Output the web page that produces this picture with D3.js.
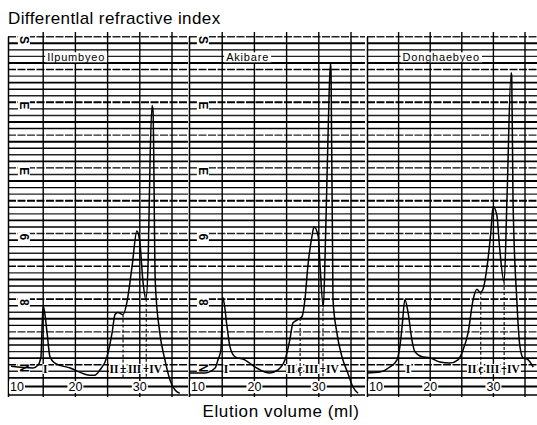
<!DOCTYPE html>
<html>
<head>
<meta charset="utf-8">
<script src="https://cdn.jsdelivr.net/npm/d3@7"></script>
<style>
  body { margin: 0; background: #fff; }
  svg { display: block; font-family: "Liberation Sans", Arial, sans-serif; }
</style>
</head>
<body>
<div id="vis"></div>
<script>
// sample (cultivar) names, one strip-chart panel each
var samples = ['Ilpumbyeo', 'Akibare', 'Donghaebyeo'];

var volIlpumbyeo = [10, 13.4, 14.2, 14.65, 14.97, 15.1, 15.6, 16.05, 16.8, 19.2, 22.3, 23.0, 23.8, 24.9,
  25.7, 26.15, 26.6, 27.4, 28.0, 28.8, 29.55, 30.0, 30.5, 30.95, 31.3, 31.6, 31.9, 32.05, 32.4, 33.1,
  33.9, 34.7, 35.5, 36.2];
var riIlpumbyeo = [0.5, 0, 0.9, 3.4, 18.8, 18.3, 10.8, 3.4, 1.5, 0, -2.2, -2.2, -0.6, 3.4,
  10.8, 16.3, 16.9, 16.3, 20, 31, 41.8, 38.5, 26.2, 20.9, 33, 64, 80, 78.4, 26.2, 10.8,
  2.5, -3.7, -6.8, -7.7];

var volAkibare = [10, 12.3, 13.9, 14.35, 14.8, 15.1, 15.75, 16.2, 17.0, 18.5, 20.1, 21.6, 22.4, 23.65,
  24.75, 25.5, 26.0, 26.8, 27.4, 27.85, 28.3, 28.95, 29.25, 29.9, 30.2, 30.7, 31.0, 31.5, 31.8, 31.9,
  32.2, 32.8, 33.6, 34.5, 35.3, 36.1];
var riAkibare = [-1.5, -1.5, 0, 2.5, 5.5, 21.5, 12.6, 6.5, 3.4, 2.5, 0.3, -1.2, -1.5, -0.6,
  2.5, 8.6, 13.8, 14.8, 15.7, 20.9, 31, 40.3, 43, 40.3, 31, 18.5, 36, 76, 93, 90.7,
  21, 10.8, 3.4, -1.5, -5.8, -7.7];

var volDonghaebyeo = [10, 12.05, 13.6, 14.75, 15.2, 15.55, 16.0, 16.5, 17.1, 17.6, 18.7, 19.95, 21.55,
  23.1, 24.4, 25.2, 26.0, 26.8, 27.4, 27.9, 28.35, 29.0, 29.6, 29.95, 30.55, 31.0, 31.7, 32.15, 32.8,
  32.9, 33.1, 33.7, 34.2, 34.7, 35.5, 36.3];
var riDonghaebyeo = [-1.5, -1.2, 0.3, 2.5, 6.5, 12.6, 20.9, 16.9, 8.6, 4.9, 3.4, 3.1, 1.8,
  1.5, 2.5, 5.5, 10.8, 20.9, 24, 23, 24, 31, 41.5, 49.2, 46.5, 36.3, 26.2, 51.7, 90,
  89, 51.7, 20.9, 6.5, 3.1, 2.5, 0.3];

var volumes = [volIlpumbyeo, volAkibare, volDonghaebyeo];
var signals = [riIlpumbyeo, riAkibare, riDonghaebyeo];

// fraction I peak and the cut points II|III and III|IV (ml)
var peakI = [15.3, 15.6, 16.5];
var cutIIandIII = [27.4, 27.1, 28.0];
var cutIIIandIV = [31.0, 30.65, 31.7];
var cutMarks = ['\u00b1', 'c', 'c'];

// x tick labels and ruled lines of the chart paper
var xTickLabels = [10, 20, 30];
var paperLines = [15, 20, 25, 30, 35];
// printed scale numbers down the left of the paper
var paperNumbers = [0, 20, 40, 60, 80, 100];
var paperNumberText = ['N', '8', '6', 'E', 'E', 'S'];

// layout
var width = 537;
var height = 425;
var panelEdges = [[8, 188], [189, 365], [367, 537]];
var panelAnchors = [[11, 172], [190, 351], [367, 525]];
var rowMid = 386.5;
var rowBottom = 395;

var y = d3.scaleLinear().domain([0, 100]).range([368, 40]);

var svg = d3.select('#vis').append('svg')
  .attr('width', width)
  .attr('height', height);

// title and axis title
svg.append('text')
  .attr('x', 8).attr('y', 24)
  .attr('font-size', 17)
  .attr('letter-spacing', 0.4)
  .text('Differentlal refractive index');

svg.append('text')
  .attr('x', 281).attr('y', 417)
  .attr('text-anchor', 'middle')
  .attr('font-size', 17)
  .attr('letter-spacing', 0.6)
  .text('Elution volume (ml)');

// value of a strip at volume v (linear between readings)
function valueAt(vols, vals, v) {
  var i = d3.bisectLeft(vols, v);
  if (i <= 0) return vals[0];
  if (i >= vols.length) return vals[vals.length - 1];
  var t = (v - vols[i - 1]) / (vols[i] - vols[i - 1]);
  return vals[i - 1] + t * (vals[i] - vals[i - 1]);
}

// white box behind a text node so the grid breaks round it
function knockout(g, node, pad) {
  var b = node.getBBox();
  g.insert('rect', function () { return node; })
    .attr('x', b.x - pad).attr('y', b.y + 1)
    .attr('width', b.width + pad * 2).attr('height', b.height - 2)
    .attr('fill', '#fff');
}

samples.forEach(function (name, i) {
  var left = panelEdges[i][0];
  var right = panelEdges[i][1];
  var x = d3.scaleLinear().domain([10, 35]).range(panelAnchors[i]);
  var g = svg.append('g').attr('class', 'panel');

  // horizontal chart paper lines
  g.selectAll('.hline')
    .data(d3.range(-3, 102, 2))
    .join('line')
    .attr('class', 'hline')
    .attr('x1', left).attr('x2', right)
    .attr('y1', function (d) { return y(d); })
    .attr('y2', function (d) { return y(d); })
    .attr('stroke', function (d, k) { return k % 3 === 1 ? '#222' : '#000'; })
    .attr('stroke-width', function (d, k) { return k % 3 === 0 ? 1.9 : 1.4; })
    .attr('stroke-dasharray', function (d, k) { return k % 5 === 2 ? '8,1.5' : null; });

  // label row at the bottom of the strip
  g.append('line')
    .attr('x1', left).attr('x2', right)
    .attr('y1', rowMid).attr('y2', rowMid)
    .attr('stroke', '#000').attr('stroke-width', 1.8);
  g.append('line')
    .attr('x1', left).attr('x2', right)
    .attr('y1', rowBottom).attr('y2', rowBottom)
    .attr('stroke', '#000').attr('stroke-width', 1.4);

  // ruled vertical lines and the panel edge
  g.selectAll('.vline')
    .data(paperLines)
    .join('line')
    .attr('class', 'vline')
    .attr('x1', function (d) { return x(d); })
    .attr('x2', function (d) { return x(d); })
    .attr('y1', 32).attr('y2', rowBottom + 2)
    .attr('stroke', '#000').attr('stroke-width', 1.4);
  g.append('line')
    .attr('x1', left + 0.5).attr('x2', left + 0.5)
    .attr('y1', y(101)).attr('y2', rowBottom + 2)
    .attr('stroke', '#000').attr('stroke-width', 1.5);

  // x tick labels
  xTickLabels.forEach(function (t, k) {
    var txt = g.append('text')
      .attr('x', k === 0 ? left + 2 : x(t))
      .attr('y', rowMid + 4.5)
      .attr('text-anchor', k === 0 ? 'start' : 'middle')
      .attr('font-size', 12.5)
      .text(t);
    knockout(g, txt.node(), 1);
  });

  // printed numbers of the chart paper (first two strips only)
  if (i < 2) {
    paperNumbers.forEach(function (u, k) {
      var px = x(12);
      var txt = g.append('text')
        .attr('transform', 'translate(' + px + ',' + y(u) + ') rotate(90)')
        .attr('text-anchor', 'middle')
        .attr('dy', '0.35em')
        .attr('font-size', 12)
        .attr('font-weight', 'bold')
        .text(paperNumberText[k]);
      var b = txt.node().getBBox();
      g.insert('rect', function () { return txt.node(); })
        .attr('x', px - b.height / 2 + 1).attr('y', y(u) - b.width / 2 - 1)
        .attr('width', b.height - 2).attr('height', b.width + 2)
        .attr('fill', '#fff');
    });
  }

  // sample name
  var title = g.append('text')
    .attr('x', x(15) + 4)
    .attr('y', y(93.5))
    .attr('font-size', 11)
    .attr('letter-spacing', 0.8)
    .text(name);
  knockout(g, title.node(), 2);

  var vols = volumes[i];
  var vals = signals[i];

  // fraction labels
  var labelY = y(0) + 1;
  var labels = [
    { v: peakI[i], t: 'I' },
    { v: cutIIandIII[i] - 1.4, t: 'II' },
    { v: cutIIandIII[i], t: cutMarks[i] },
    { v: (cutIIandIII[i] + cutIIIandIV[i]) / 2, t: 'III' },
    { v: cutIIIandIV[i], t: '\u00f7' },
    { v: cutIIIandIV[i] + 1.45, t: 'IV' }
  ];
  labels.forEach(function (d) {
    var txt = g.append('text')
      .attr('x', x(d.v)).attr('y', labelY + 4)
      .attr('text-anchor', 'middle')
      .attr('font-family', '"Liberation Serif", serif')
      .attr('font-weight', 'bold')
      .attr('font-size', 11.5)
      .text(d.t);
    knockout(g, txt.node(), 0.5);
  });

  // dashed cut lines
  [cutIIandIII[i], cutIIIandIV[i]].forEach(function (c) {
    g.append('line')
      .attr('x1', x(c)).attr('x2', x(c))
      .attr('y1', y(valueAt(vols, vals, c))).attr('y2', y(-3))
      .attr('stroke', '#000').attr('stroke-width', 1.1)
      .attr('stroke-dasharray', '3,2');
  });

  // chromatogram trace
  var line = d3.line()
    .x(function (d) { return x(d[0]); })
    .y(function (d) { return y(d[1]); })
    .curve(d3.curveMonotoneX);

  g.append('path')
    .datum(d3.zip(vols, vals))
    .attr('d', line)
    .attr('fill', 'none')
    .attr('stroke', '#000')
    .attr('stroke-width', 1.5);
});
</script>
</body>
</html>
